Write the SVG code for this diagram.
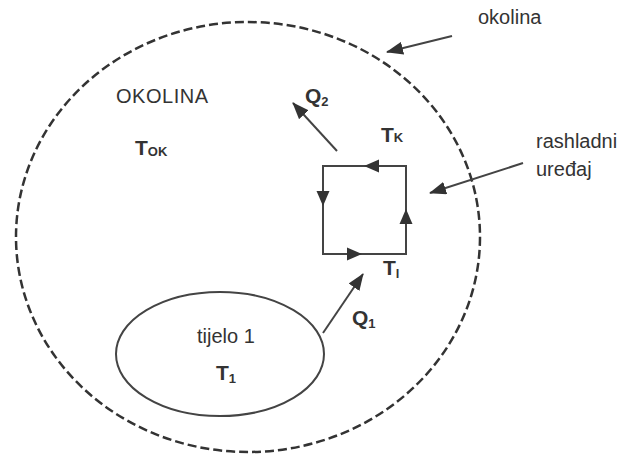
<svg xmlns="http://www.w3.org/2000/svg" width="625" height="455" viewBox="0 0 625 455">
<defs>
<style>
text{font-family:"Liberation Sans",Arial,sans-serif;fill:#333;}
.lbl{font-size:20px;}
.sym{font-size:21px;font-weight:bold;}
.sub{font-size:13px;font-weight:bold;}
.line{stroke:#444;stroke-width:2;fill:none;}
.tri{fill:#333;}
</style>
<marker id="ah" markerWidth="17" markerHeight="13" refX="16" refY="6.5" orient="auto" markerUnits="userSpaceOnUse">
<path d="M0,0 L17,6.5 L0,13 Z" fill="#333"/>
</marker>
<path id="t" d="M8,0 L-7,-6.5 L-7,6.5 Z"/>
</defs>

<g id="okolina-boundary">
<ellipse cx="248" cy="237" rx="232" ry="215" fill="none" stroke="#333" stroke-width="2.5" stroke-dasharray="9 4"/>
</g>

<g id="okolina-inner">
<text class="lbl" x="116" y="103" textLength="92">OKOLINA</text>
<text class="sym" x="135" y="155">T<tspan class="sub" dy="1">OK</tspan></text>
</g>

<g id="tijelo1">
<ellipse cx="220" cy="354" rx="104" ry="62" class="line"/>
<text class="lbl" x="197" y="343">tijelo 1</text>
<text class="sym" x="216" y="380">T<tspan class="sub" dy="3">1</tspan></text>
</g>

<g id="rashladni-uredjaj">
<rect x="323" y="166" width="83" height="88" class="line"/>
<use href="#t" class="tri" transform="translate(372,166) rotate(180)"/>
<use href="#t" class="tri" transform="translate(323,198) rotate(90)"/>
<use href="#t" class="tri" transform="translate(406,217) rotate(-90)"/>
<use href="#t" class="tri" transform="translate(354,254)"/>
<text class="sym" x="381" y="142">T<tspan class="sub" dy="0">K</tspan></text>
<text class="sym" x="383" y="275">T<tspan class="sub" dy="3">l</tspan></text>
</g>

<g id="labels">
<text class="lbl" x="478" y="24">okolina</text>
<text class="lbl" x="536" y="148">rashladni</text>
<text class="lbl" x="536" y="176">uređaj</text>
<text class="sym" x="305" y="103">Q<tspan class="sub" dy="3">2</tspan></text>
<text class="sym" x="352" y="325">Q<tspan class="sub" dy="3">1</tspan></text>
</g>

<g id="connectors">
<line x1="337" y1="151" x2="293" y2="103" class="line" marker-end="url(#ah)"/>
<line x1="323" y1="333" x2="363" y2="274" class="line" marker-end="url(#ah)"/>
<line x1="452" y1="36" x2="387" y2="52" class="line" marker-end="url(#ah)"/>
<line x1="523" y1="163" x2="430" y2="193" class="line" marker-end="url(#ah)"/>
</g>
</svg>
